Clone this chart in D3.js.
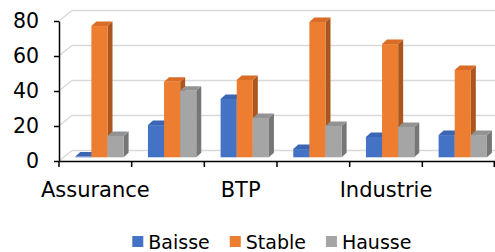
<!DOCTYPE html>
<html>
<head>
<meta charset="utf-8">
<script src="https://cdn.jsdelivr.net/npm/d3@7"></script>
<style>
  body { margin: 0; background: #fff; }
  svg { display: block; font-family: "DejaVu Sans", Verdana, sans-serif; }
</style>
</head>
<body>
<div id="chart-area"></div>
<script>
// data
var categories = ["Assurance", "Banque", "BTP", "Commerce", "Industrie", "Services"];
var tickLabels = ["Assurance", "", "BTP", "", "Industrie", ""];
var seriesNames = ["Baisse", "Stable", "Hausse"];
var baisse = [0.4, 18.4, 33.3, 4.7, 11.6, 12.7];
var stable = [75, 43.2, 44.2, 77.3, 64.7, 49.9];
var hausse = [12.2, 38, 22.5, 17.9, 17.3, 12.7];
var yTicks = [0, 20, 40, 60, 80];

var values = [baisse, stable, hausse];
var colors = [
	{front: "#4472c4", top: "#3c66b4", side: "#2f5597"},
	{front: "#ed7d31", top: "#d96c26", side: "#ab561d"},
	{front: "#a5a5a5", top: "#939393", side: "#767676"}
];

var width = 495, height = 252;
var wall = {dx: 13, dy: -10.5};   // back wall depth
var barOff = {dx: 4.5, dy: -3.7}; // bar front face inside the depth
var barDepth = {dx: 5, dy: -4.5};

var svg = d3.select("#chart-area")
	.append("svg")
		.attr("width", width)
		.attr("height", height);

var x = d3.scaleBand()
	.domain(categories)
	.range([59, 495]);

var y = d3.scaleLinear()
	.domain([0, 80])
	.range([161, 21]);

var inner = d3.scaleBand()
	.domain(seriesNames)
	.range([0, x.bandwidth() * 0.665]);

// gridlines on back wall and left side
var grid = svg.append("g").attr("class", "grid");
grid.selectAll("line.back").data(yTicks).enter()
	.append("line")
		.attr("x1", 59 + wall.dx)
		.attr("x2", width)
		.attr("y1", (d) => y(d) + wall.dy)
		.attr("y2", (d) => y(d) + wall.dy)
		.attr("stroke", "#d9d9d9")
		.attr("stroke-width", 1.5);
grid.selectAll("line.side").data(yTicks).enter()
	.append("line")
		.attr("x1", 60)
		.attr("x2", 59 + wall.dx)
		.attr("y1", (d) => y(d) - 1)
		.attr("y2", (d) => y(d) + wall.dy)
		.attr("stroke", "#d9d9d9")
		.attr("stroke-width", 1.5);

// bars
var bars = svg.append("g").attr("class", "bars");
categories.forEach(function(c, ci) {
	seriesNames.forEach(function(s, si) {
		var v = values[si][ci];
		var x0 = x(c) + x.bandwidth() * 0.224 + inner(s);
		var w = inner.bandwidth();
		var yt = y(v) + barOff.dy;
		var yb = y(0) + barOff.dy;
		var col = colors[si];
		// side
		bars.append("path")
			.attr("d", "M" + (x0 + w) + "," + yt + "L" + (x0 + w + barDepth.dx) + "," + (yt + barDepth.dy) +
				"L" + (x0 + w + barDepth.dx) + "," + (yb + barDepth.dy) + "L" + (x0 + w) + "," + yb + "Z")
			.attr("fill", col.side);
		// top
		bars.append("path")
			.attr("d", "M" + x0 + "," + yt + "L" + (x0 + barDepth.dx) + "," + (yt + barDepth.dy) +
				"L" + (x0 + w + barDepth.dx) + "," + (yt + barDepth.dy) + "L" + (x0 + w) + "," + yt + "Z")
			.attr("fill", col.top);
		// front
		bars.append("rect")
			.attr("x", x0)
			.attr("y", yt)
			.attr("width", w)
			.attr("height", yb - yt)
			.attr("fill", col.front);
	});
});

// axes
var leftAxis = d3.axisLeft(y).tickValues(yTicks).tickSize(5).tickSizeOuter(0).tickPadding(15);
var ya = svg.append("g")
	.attr("class", "left axis")
	.attr("transform", "translate(59,0)")
	.call(leftAxis);
ya.select(".domain").attr("stroke", "#000").attr("stroke-width", 1.5);
ya.selectAll(".tick line").attr("stroke", "#000").attr("stroke-width", 1.5);
ya.selectAll("text")
	.attr("font-size", "20.5px")
	.attr("font-family", "DejaVu Sans, Verdana, sans-serif")
	.attr("fill", "#000");

var bottomAxis = d3.axisBottom(x).tickSize(0).tickPadding(21)
	.tickFormat((d, i) => tickLabels[i]);
var xa = svg.append("g")
	.attr("class", "bottom axis")
	.attr("transform", "translate(0,161)")
	.call(bottomAxis);
xa.select(".domain").attr("stroke", "#000").attr("stroke-width", 1.5);
xa.selectAll("text")
	.attr("font-size", "21px")
	.attr("font-family", "DejaVu Sans, Verdana, sans-serif")
	.attr("fill", "#000");

// category boundary ticks
var bounds = categories.map((c) => x(c)).concat([x.range()[1] - 0.75]);
svg.append("g").selectAll("line").data(bounds).enter()
	.append("line")
		.attr("x1", (d) => d)
		.attr("x2", (d) => d)
		.attr("y1", 161)
		.attr("y2", 167)
		.attr("stroke", "#000")
		.attr("stroke-width", 1.5);

// legend
var legend = svg.append("g").attr("class", "legend");
var lx = 132.3;
seriesNames.forEach(function(s, i) {
	legend.append("rect")
		.attr("x", lx)
		.attr("y", 236)
		.attr("width", 11)
		.attr("height", 11)
		.attr("fill", colors[i].front);
	var t = legend.append("text")
		.attr("x", lx + 16)
		.attr("y", 249)
		.attr("font-size", "19px")
		.attr("fill", "#000")
		.text(s);
	lx += 16 + t.node().getComputedTextLength() + 20;
});
</script>
</body>
</html>
